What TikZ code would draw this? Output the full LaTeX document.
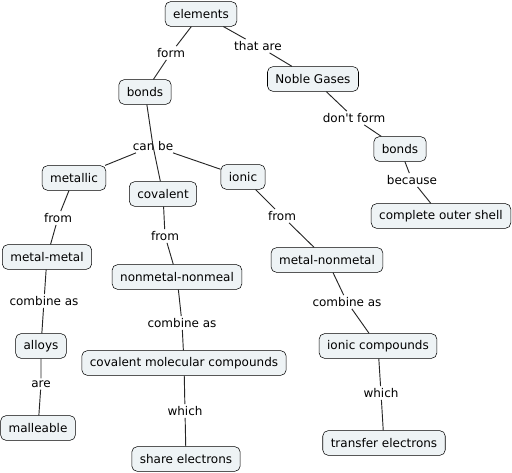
\documentclass[tikz,border=0pt]{standalone}
\usepackage{fontspec}
\setmainfont{DejaVu Sans}
\definecolor{conceptfill}{RGB}{238,243,245}
\begin{document}
\begin{tikzpicture}[x=0.75pt, y=-0.75pt,
    concept/.style={draw, rounded corners=4pt, fill=conceptfill, minimum height=18.5pt,
      inner xsep=6pt, font=\fontsize{9}{10}\selectfont},
    phrase/.style={inner sep=1.5pt, font=\fontsize{9}{10}\selectfont},
    link/.style={black!85, line width=0.7pt}]
  \useasboundingbox (0,0) rectangle (512,473);

  \node [concept] (elements) at (201,14) {elements};
  \node [concept] (bonds) at (145,92) {bonds};
  \node [concept] (noble) at (313,79) {Noble Gases};
  \node [concept] (nobonds) at (400,149) {bonds};
  \node [concept] (shell) at (441,216) {complete outer shell};
  \node [concept] (metallic) at (74,178) {metallic};
  \node [concept] (covalent) at (163,194) {covalent};
  \node [concept] (ionic) at (243,177) {ionic};
  \node [concept] (metalmetal) at (47,257) {metal-metal};
  \node [concept] (nonmetal) at (177,277) {nonmetal-nonmeal};
  \node [concept] (metalnon) at (327,260) {metal-nonmetal};
  \node [concept] (alloys) at (41,346) {alloys};
  \node [concept] (molecular) at (184,363) {covalent molecular compounds};
  \node [concept] (ioniccomp) at (378,346) {ionic compounds};
  \node [concept] (malleable) at (38,428) {malleable};
  \node [concept] (share) at (186,459) {share electrons};
  \node [concept] (transfer) at (384,443) {transfer electrons};

  \node [phrase] (form) at (171,53) {form};
  \node [phrase] (thatare) at (258,46) {that are};
  \node [phrase] (dontform) at (354,118) {don\textquotesingle t form};
  \node [phrase] (because) at (412,180) {because};
  \node [phrase] (canbe) at (153,146) {can be};
  \node [phrase] (from1) at (58,218) {from};
  \node [phrase] (from2) at (165,236) {from};
  \node [phrase] (from3) at (282,216) {from};
  \node [phrase] (combine1) at (44,301) {combine as};
  \node [phrase] (combine2) at (182,323) {combine as};
  \node [phrase] (combine3) at (347,302) {combine as};
  \node [phrase] (are) at (41,384) {are};
  \node [phrase] (which1) at (185,411) {which};
  \node [phrase] (which2) at (381,393) {which};

  \draw [link] (elements) -- (form) -- (bonds);
  \draw [link] (elements) -- (thatare) -- (noble);
  \draw [link] (noble) -- (dontform) -- (nobonds);
  \draw [link] (nobonds) -- (because) -- (shell);
  \draw [link] (bonds) -- (canbe.center) -- (covalent);
  \draw [link] (canbe) -- (metallic);
  \draw [link] (canbe) -- (ionic);
  \draw [link] (metallic) -- (from1) -- (metalmetal);
  \draw [link] (covalent) -- (from2) -- (nonmetal);
  \draw [link] (ionic) -- (from3) -- (metalnon);
  \draw [link] (metalmetal) -- (combine1) -- (alloys);
  \draw [link] (nonmetal) -- (combine2) -- (molecular);
  \draw [link] (metalnon) -- (combine3) -- (ioniccomp);
  \draw [link] (alloys) -- (are) -- (malleable);
  \draw [link] (molecular) -- (which1) -- (share);
  \draw [link] (ioniccomp) -- (which2) -- (transfer);
\end{tikzpicture}
\end{document}
